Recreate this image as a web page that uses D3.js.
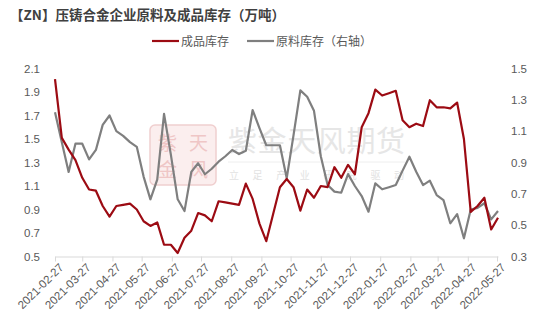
<!DOCTYPE html>
<html>
<head>
<meta charset="utf-8">
<script src="https://cdn.jsdelivr.net/npm/d3@7"></script>
<style>
  body { margin: 0; background: #fff; }
  svg { display: block; }
</style>
</head>
<body>
<script>
var dates = ["2021-02-27","2021-03-06","2021-03-13","2021-03-20","2021-03-27","2021-04-03","2021-04-10","2021-04-17","2021-04-24",
  "2021-05-01","2021-05-08","2021-05-15","2021-05-22","2021-05-29","2021-06-05","2021-06-12","2021-06-19","2021-06-26",
  "2021-07-03","2021-07-10","2021-07-17","2021-07-24","2021-07-31","2021-08-07","2021-08-14","2021-08-21","2021-08-28",
  "2021-09-04","2021-09-11","2021-09-18","2021-09-25","2021-10-02","2021-10-09","2021-10-16","2021-10-23","2021-10-30",
  "2021-11-06","2021-11-13","2021-11-20","2021-11-27","2021-12-04","2021-12-11","2021-12-18","2021-12-25",
  "2022-01-01","2022-01-08","2022-01-15","2022-01-22","2022-01-29","2022-02-05","2022-02-12","2022-02-19","2022-02-26",
  "2022-03-05","2022-03-12","2022-03-19","2022-03-26","2022-04-02","2022-04-09","2022-04-16","2022-04-23","2022-04-30",
  "2022-05-07","2022-05-14","2022-05-21","2022-05-28"];

// 成品库存 (left axis)
var product = [2.01,1.51,1.41,1.32,1.17,1.07,1.06,0.93,0.84,0.93,0.94,0.95,0.90,0.80,0.76,0.79,0.60,0.60,0.53,0.66,
  0.72,0.87,0.85,0.80,0.97,0.96,0.95,0.94,1.12,0.99,0.78,0.63,0.86,1.09,1.16,1.09,0.89,1.07,1.00,1.10,
  1.09,1.26,1.17,1.28,1.20,1.60,1.72,1.92,1.87,1.89,1.91,1.66,1.60,1.63,1.61,1.83,1.77,1.77,1.76,1.81,
  1.50,0.88,0.93,1.00,0.73,0.83];

// 原料库存 (right axis)
var material = [1.22,1.03,0.84,1.02,1.02,0.92,0.98,1.14,1.20,1.10,1.07,1.03,1.00,0.81,0.665,0.79,1.21,0.95,0.665,0.59,
  0.84,0.895,0.825,0.86,0.905,0.94,0.98,0.954,0.975,1.235,1.12,1.01,1.01,1.01,0.80,1.075,1.36,1.32,1.23,0.94,
  0.756,0.714,0.707,0.826,0.75,0.686,0.586,0.767,0.729,0.742,0.756,0.848,0.937,0.841,0.756,0.784,0.692,0.66,0.512,0.571,
  0.416,0.60,0.61,0.64,0.537,0.59];

var xTickLabels = ["2021-02-27","2021-03-27","2021-04-27","2021-05-27","2021-06-27","2021-07-27","2021-08-27","2021-09-27",
  "2021-10-27","2021-11-27","2021-12-27","2022-01-27","2022-02-27","2022-03-27","2022-04-27","2022-05-27"];
var leftTicks = [0.5,0.7,0.9,1.1,1.3,1.5,1.7,1.9,2.1];
var rightTicks = [0.3,0.5,0.7,0.9,1.1,1.3,1.5];

var title = "【ZN】压铸合金企业原料及成品库存（万吨）";
var seriesNames = ["成品库存", "原料库存（右轴）"];

var RED = "#9c0b13", GREY = "#7f7f7f", TXT = "#595959";
var CJK = "'Noto Sans CJK SC', sans-serif";
var NUM = "'Liberation Sans', Arial, sans-serif";

function draw_chart(width, height){
  var parse = d3.timeParse("%Y-%m-%d");
  var svg = d3.select("body")
    .append("svg")
    .attr("width", width)
    .attr("height", height);

  var x = d3.scaleTime()
    .domain([parse(dates[0]), parse(dates[dates.length - 1])])
    .range([55, 498]);
  var yL = d3.scaleLinear().domain([0.5, 2.1]).range([256.5, 68.5]);
  var yR = d3.scaleLinear().domain([0.3, 1.5]).range([256.5, 68.5]);

  // watermark
  var wm = svg.append("g").attr("class", "watermark");
  wm.append("rect")
    .attr("x", 150).attr("y", 125).attr("width", 66).attr("height", 60)
    .attr("rx", 5)
    .attr("fill", "#fbeeee").attr("stroke", "#f0cfcf").attr("stroke-width", 1.5);
  // seal characters as one two-line text block
  var seal = wm.append("text")
    .attr("font-family", CJK).attr("font-size", 19)
    .attr("text-anchor", "middle")
    .attr("fill", "#efc6c6");
  seal.append("tspan").attr("x", 183).attr("y", 150).attr("textLength", 50).text("紫天");
  seal.append("tspan").attr("x", 183).attr("y", 177).attr("textLength", 50).text("金风");

  wm.append("text")
    .attr("x", 228).attr("y", 152)
    .attr("font-family", CJK).attr("font-size", 29)
    .attr("fill", "#e6e6e6").attr("textLength", 177)
    .text("紫金天风期货");
  wm.append("line")
    .attr("x1", 228).attr("x2", 405).attr("y1", 162).attr("y2", 162)
    .attr("stroke", "#eeeeee").attr("stroke-width", 1);
  wm.append("text")
    .attr("x", 229).attr("y", 179)
    .attr("font-family", CJK).attr("font-size", 10)
    .attr("fill", "#e2e2e2").attr("textLength", 175)
    .text("立足产业研究驱动");

  // x axis
  var xAxis = svg.append("g")
    .attr("transform", "translate(0, 256.5)")
    .call(d3.axisBottom(x)
      .tickValues(xTickLabels.map(parse))
      .tickFormat(d3.timeFormat("%Y-%m-%d"))
      .tickSize(5)
      .tickSizeOuter(0));
  xAxis.select(".domain").attr("stroke", "#d9d9d9");
  xAxis.selectAll(".tick line").attr("stroke", "#d9d9d9");
  xAxis.selectAll(".tick text")
    .attr("font-family", NUM).attr("font-size", 11.5).attr("fill", TXT)
    .attr("text-anchor", "end")
    .attr("dy", 0)
    .attr("transform", "translate(3, 6) rotate(-45)");

  // left axis
  var lAxis = svg.append("g")
    .attr("transform", "translate(40, 0)")
    .call(d3.axisLeft(yL).tickValues(leftTicks).tickFormat(d3.format(".1f")).tickSize(0));
  lAxis.select(".domain").remove();
  lAxis.selectAll(".tick text")
    .attr("font-family", NUM).attr("font-size", 11.5).attr("fill", TXT).attr("x", 0);

  // right axis
  var rAxis = svg.append("g")
    .attr("transform", "translate(511, 0)")
    .call(d3.axisRight(yR).tickValues(rightTicks).tickFormat(d3.format(".1f")).tickSize(0));
  rAxis.select(".domain").remove();
  rAxis.selectAll(".tick text")
    .attr("font-family", NUM).attr("font-size", 11.5).attr("fill", TXT).attr("x", 0);

  // lines
  var lineL = d3.line()
    .x(function(d, i) { return x(parse(dates[i])); })
    .y(function(d) { return yL(d); });
  var lineR = d3.line()
    .x(function(d, i) { return x(parse(dates[i])); })
    .y(function(d) { return yR(d); });

  svg.append("path")
    .datum(material)
    .attr("fill", "none")
    .attr("stroke", GREY)
    .attr("stroke-width", 2.2)
    .attr("stroke-linejoin", "round")
    .attr("d", lineR);

  svg.append("path")
    .datum(product)
    .attr("fill", "none")
    .attr("stroke", RED)
    .attr("stroke-width", 2.2)
    .attr("stroke-linejoin", "round")
    .attr("d", lineL);

  // title
  svg.append("text")
    .attr("x", 10).attr("y", 20)
    .attr("font-family", CJK).attr("font-size", 13.5).attr("font-weight", "bold")
    .attr("fill", "#404040")
    .text(title);

  // legend
  var legend = svg.append("g").attr("font-family", CJK).attr("font-size", 12).attr("fill", TXT);
  var items = [{name: seriesNames[0], color: RED, x: 152}, {name: seriesNames[1], color: GREY, x: 247}];
  items.forEach(function(it){
    legend.append("line")
      .attr("x1", it.x).attr("x2", it.x + 27).attr("y1", 41).attr("y2", 41)
      .attr("stroke", it.color).attr("stroke-width", 2.2);
    legend.append("text")
      .attr("x", it.x + 29).attr("y", 45.5)
      .text(it.name);
  });
}

draw_chart(538, 317);
</script>
</body>
</html>
